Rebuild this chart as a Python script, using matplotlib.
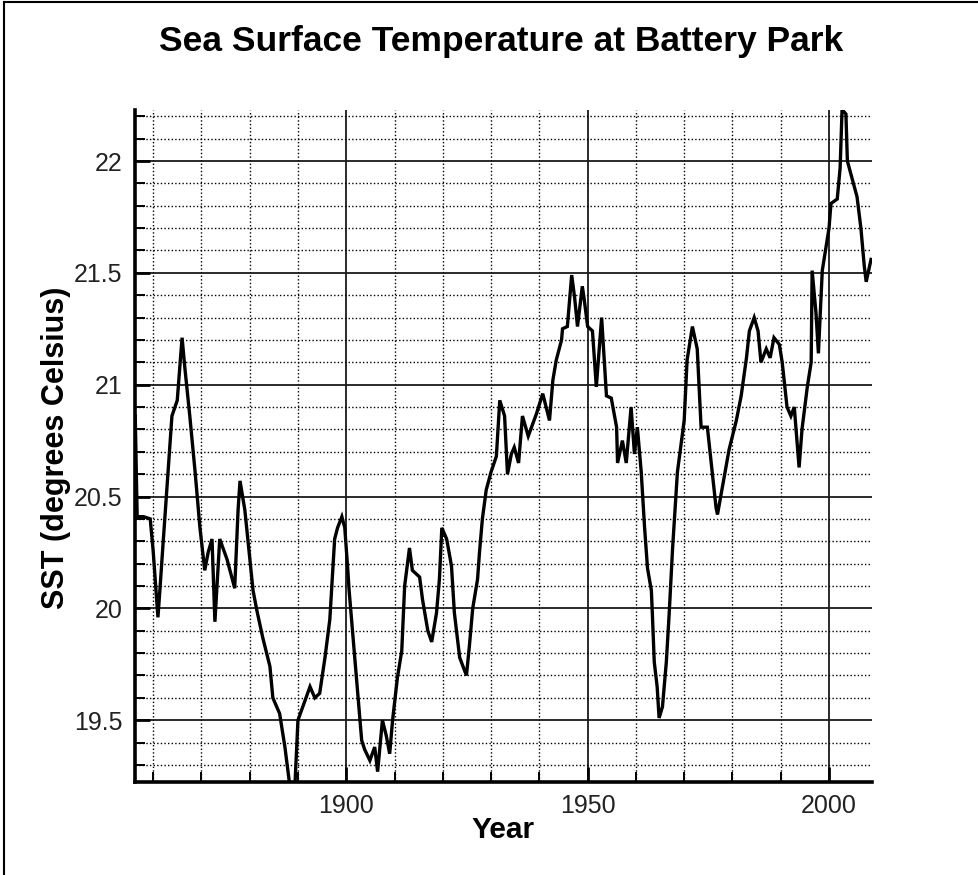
import matplotlib
matplotlib.use("Agg")
import matplotlib.pyplot as plt
from matplotlib.ticker import MultipleLocator, FixedLocator
from matplotlib.lines import Line2D

# ---- data ----
years = [1856.3, 1856.7, 1858.0, 1859.4, 1860.0, 1861.0, 1861.4, 1862.0, 1863.9, 1865.0,
         1866.0, 1866.6, 1867.6, 1868.7, 1869.7, 1870.7, 1871.4, 1872.2, 1872.8, 1873.8,
         1875.3, 1876.9, 1877.6, 1878.0, 1879.0, 1880.0, 1880.7, 1881.5, 1882.7, 1884.2,
         1884.8, 1886.2, 1887.3, 1888.3, 1889.4, 1890.0, 1891.0, 1892.5, 1893.5, 1894.5,
         1895.6, 1896.6, 1897.6, 1898.2, 1899.1, 1899.7, 1900.3, 1900.6, 1901.3, 1902.4,
         1903.2, 1903.8, 1904.9, 1905.9, 1906.5, 1907.5, 1908.3, 1909.0, 1909.6, 1910.6,
         1911.5, 1912.1, 1913.1, 1913.7, 1915.2, 1915.8, 1916.9, 1917.7, 1918.7, 1919.3,
         1919.8, 1920.8, 1921.8, 1922.4, 1923.5, 1924.9, 1925.5, 1926.2, 1927.2, 1927.6,
         1928.2, 1929.0, 1930.0, 1931.1, 1931.8, 1932.8, 1933.4, 1934.2, 1934.8, 1935.7,
         1936.5, 1937.7, 1939.4, 1940.7, 1942.1, 1942.8, 1943.5, 1944.6, 1944.8, 1945.8,
         1946.7, 1947.3, 1947.9, 1948.9, 1949.3, 1950.0, 1951.0, 1951.8, 1952.9, 1953.1,
         1953.9, 1954.9, 1956.0, 1956.2, 1957.2, 1958.0, 1959.0, 1959.7, 1960.3, 1961.1,
         1961.8, 1962.4, 1963.2, 1963.4, 1963.8, 1964.4, 1964.8, 1965.5, 1966.3, 1966.9,
         1967.6, 1968.6, 1970.0, 1970.6, 1971.7, 1972.7, 1973.5, 1974.8, 1976.6, 1976.9,
         1977.9, 1979.3, 1980.8, 1981.8, 1982.9, 1983.5, 1984.5, 1985.3, 1985.9, 1987.0,
         1987.8, 1988.6, 1989.7, 1990.3, 1991.3, 1992.1, 1992.8, 1993.8, 1994.4, 1995.5,
         1996.3, 1996.5, 1997.3, 1997.8, 1998.6, 1999.4, 2000.0, 2000.4, 2001.7, 2002.3,
         2002.7, 2003.5, 2003.8, 2004.8, 2005.8, 2006.6, 2007.3, 2007.7, 2008.7]
sst = [20.86, 20.41, 20.41, 20.40, 20.26, 19.96, 20.08, 20.27, 20.86, 20.93,
       21.21, 21.07, 20.86, 20.61, 20.36, 20.17, 20.25, 20.31, 19.94, 20.31,
       20.22, 20.09, 20.44, 20.57, 20.44, 20.23, 20.08, 19.99, 19.87, 19.74,
       19.60, 19.53, 19.38, 19.21, 19.22, 19.50, 19.56, 19.65, 19.60, 19.62,
       19.78, 19.95, 20.31, 20.36, 20.41, 20.36, 20.18, 20.08, 19.90, 19.62,
       19.41, 19.37, 19.32, 19.38, 19.27, 19.50, 19.43, 19.35, 19.50, 19.69,
       19.81, 20.10, 20.27, 20.17, 20.14, 20.04, 19.90, 19.85, 19.98, 20.13,
       20.36, 20.31, 20.19, 19.98, 19.78, 19.70, 19.83, 20.00, 20.13, 20.25,
       20.40, 20.53, 20.61, 20.68, 20.93, 20.86, 20.60, 20.69, 20.72, 20.65,
       20.86, 20.77, 20.87, 20.96, 20.84, 21.02, 21.11, 21.20, 21.25, 21.26,
       21.49, 21.39, 21.26, 21.44, 21.38, 21.26, 21.24, 20.99, 21.30, 21.23,
       20.95, 20.94, 20.81, 20.65, 20.75, 20.65, 20.90, 20.69, 20.81, 20.61,
       20.36, 20.18, 20.08, 19.98, 19.76, 19.65, 19.51, 19.56, 19.76, 19.98,
       20.27, 20.61, 20.84, 21.11, 21.26, 21.16, 20.81, 20.81, 20.45, 20.42,
       20.54, 20.71, 20.84, 20.95, 21.12, 21.24, 21.30, 21.24, 21.10, 21.16,
       21.12, 21.21, 21.18, 21.10, 20.90, 20.86, 20.90, 20.63, 20.80, 20.99,
       21.10, 21.51, 21.32, 21.14, 21.51, 21.62, 21.70, 21.81, 21.83, 21.97,
       22.23, 22.21, 22.00, 21.92, 21.84, 21.70, 21.53, 21.46, 21.56]

x_major = [1900, 1950, 2000]
x_labels = ["1900", "1950", "2000"]
y_major = [19.5, 20.0, 20.5, 21.0, 21.5, 22.0]
y_labels = ["19.5", "20", "20.5", "21", "21.5", "22"]

title = "Sea Surface Temperature at Battery Park"
xlabel = "Year"
ylabel = "SST (degrees Celsius)"

W, H = 979, 875
fig = plt.figure(figsize=(W / 100, H / 100), dpi=100)
fig.patch.set_facecolor("white")

left, right, top, bottom = 135, 872, 110, 781.5
ax = fig.add_axes([left / W, 1 - bottom / H, (right - left) / W, (bottom - top) / H])

ax.plot(years, sst, color="black", lw=2.4, zorder=5, solid_joinstyle="miter")
ax.set_xlim(1856.25, 2008.9)
ax.set_ylim(19.226, 22.228)

ax.xaxis.set_major_locator(FixedLocator(x_major))
ax.set_xticklabels(x_labels)
ax.xaxis.set_minor_locator(MultipleLocator(10))
ax.yaxis.set_major_locator(FixedLocator(y_major))
ax.set_yticklabels(y_labels)
ax.yaxis.set_minor_locator(MultipleLocator(0.1))

ax.grid(which="major", color="#1a1a1a", lw=1.3, ls="-", zorder=1)
ax.grid(which="minor", color="black", lw=1.0, ls=(0, (1, 1.6)), zorder=1)
ax.set_axisbelow(True)

for s in ["top", "right"]:
    ax.spines[s].set_visible(False)
for s in ["left", "bottom"]:
    ax.spines[s].set_linewidth(2.6)
    ax.spines[s].set_color("black")

tickfont = "Liberation Sans"
ax.tick_params(which="major", direction="in", length=11, width=2.0, color="black",
               labelsize=18, pad=9)
ax.tick_params(which="minor", direction="in", length=7.5, width=1.4, color="black")
for lab in ax.get_xticklabels() + ax.get_yticklabels():
    lab.set_fontfamily(tickfont)
    lab.set_color("#222222")

fig.text(501 / W, 1 - 42 / H, title, ha="center", va="center",
         fontsize=25.5, fontweight="bold", family="Liberation Sans")
fig.text(503 / W, 1 - 830 / H, xlabel, ha="center", va="center",
         fontsize=21.5, fontweight="bold", family="Liberation Sans")
fig.text(56 / W, 1 - 448 / H, ylabel, ha="center", va="center", rotation=90,
         fontsize=22, fontweight="bold", family="Liberation Sans")

# figure frame (left and top edges)
fig.add_artist(Line2D([4 / W, 4 / W], [0, 1 - 2 / H], transform=fig.transFigure,
                      color="black", lw=1.5))
fig.add_artist(Line2D([4 / W, 1], [1 - 2 / H, 1 - 2 / H], transform=fig.transFigure,
                      color="black", lw=1.5))

fig.savefig("out.png", dpi=100, facecolor="white")
